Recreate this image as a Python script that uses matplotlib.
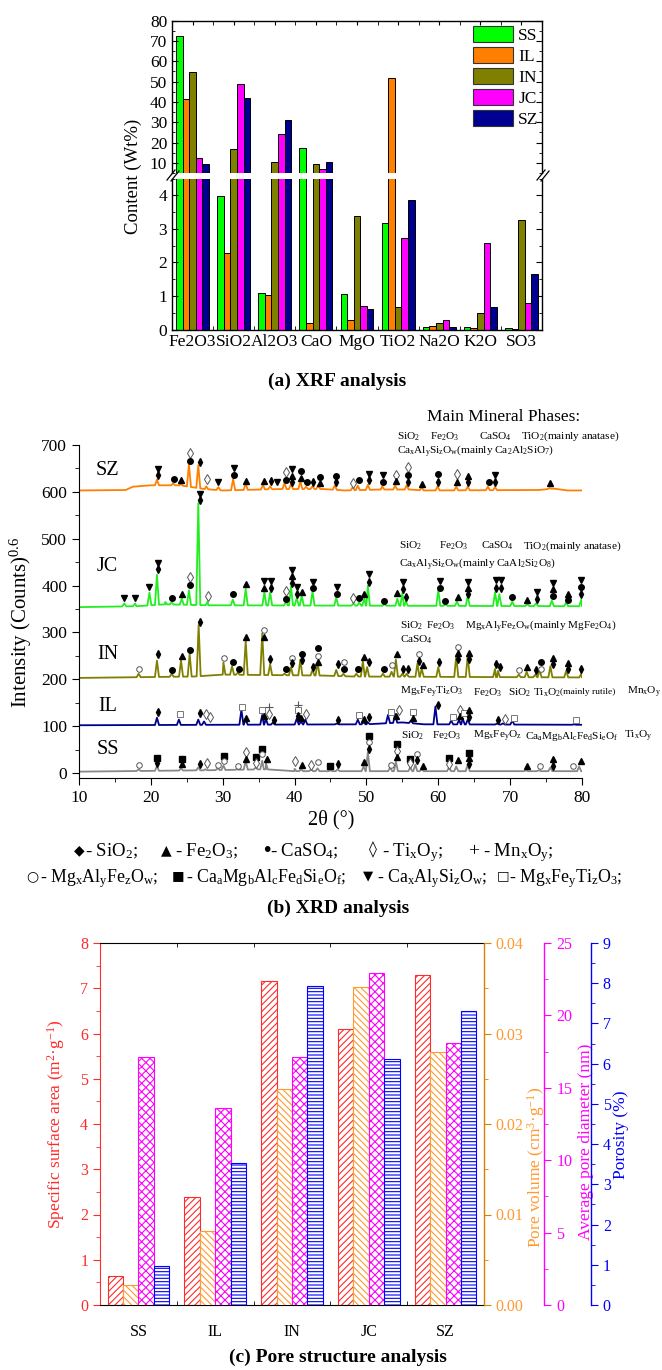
import numpy as np
import matplotlib.pyplot as plt
from matplotlib.patches import Patch
from matplotlib.lines import Line2D
from matplotlib.ticker import MultipleLocator, FormatStrFormatter

plt.rcParams['font.family'] = ['Liberation Serif', 'DejaVu Serif']
plt.rcParams['mathtext.fontset'] = 'stix'
plt.rcParams['mathtext.default'] = 'regular'
plt.rcParams['hatch.linewidth'] = 0.8

# ---------------- (a) XRF data ----------------
oxides = ['Fe2O3', 'SiO2', 'Al2O3', 'CaO', 'MgO', 'TiO2', 'Na2O', 'K2O', 'SO3']
samples = ['SS', 'IL', 'IN', 'JC', 'SZ']
xrf_colors = ['#00FF00', '#FF8000', '#808000', '#FF00FF', '#000090']
xrf_SS = [72.3, 3.98, 1.08, 17.4, 1.07, 3.16, 0.06, 0.06, 0.05]
xrf_IL = [41.6, 2.27, 1.02, 0.20, 0.27, 51.6, 0.11, 0.03, 0.02]
xrf_IN = [54.6, 16.6, 10.6, 9.6, 3.38, 0.68, 0.20, 0.48, 3.25]
xrf_JC = [12.6, 48.8, 24.0, 7.0, 0.69, 2.72, 0.27, 2.57, 0.79]
xrf_SZ = [9.2, 41.8, 31.3, 10.4, 0.61, 3.86, 0.07, 0.68, 1.64]
xrf_vals = [xrf_SS, xrf_IL, xrf_IN, xrf_JC, xrf_SZ]

# ---------------- (b) XRD data: baselines, peaks (2theta, top), phase marks ----------------
sz_base = [(10, 603), (16.5, 604), (17.5, 611), (20, 614), (24, 614), (27.5, 606), (30, 603),
           (38, 606), (44, 606), (47, 603), (52, 605), (56, 605), (58, 603), (74, 604),
           (76, 607), (78, 603), (80, 603)]
sz_peaks = [(20.85, 626), (23.1, 618), (24.2, 617), (25.3, 659), (26.6, 657), (27.7, 612),
            (29.4, 610), (31.45, 628), (33.2, 618), (35.6, 615), (36.6, 612), (38.6, 619),
            (39.5, 617), (40.8, 622), (41.6, 611), (42.5, 612), (43.3, 614), (45.6, 614),
            (48.1, 610), (48.8, 613), (50.2, 615), (52.2, 612), (54.0, 613), (55.6, 614),
            (57.7, 609), (59.9, 612), (62.5, 611), (64.1, 611), (66.9, 611), (67.9, 610),
            (75.5, 608)]
sz_marks = [(21.0, 649, 'cas'), (21.0, 635, 'qz'), (23.2, 627, 'ca'), (24.2, 625, 'fe'),
            (25.5, 683, 'ti'), (25.5, 666, 'ca'), (26.8, 663, 'qz'), (27.75, 627, 'ti'),
            (29.3, 620, 'cas'), (31.6, 650, 'cas'), (31.6, 635, 'ca'), (33.3, 623, 'fe'),
            (35.8, 623, 'fe'), (36.7, 623, 'qz'), (37.5, 620, 'cas'), (38.8, 643, 'ti'),
            (38.8, 625, 'ca'), (39.7, 648, 'cas'), (39.7, 634, 'fe'), (39.7, 621, 'qz'),
            (40.9, 645, 'ca'), (40.9, 630, 'fe'), (41.7, 620, 'ca'), (42.6, 620, 'qz'),
            (43.5, 631, 'ca'), (43.5, 619, 'fe'), (45.7, 633, 'ca'), (45.7, 620, 'qz'),
            (48.1, 619, 'ti'), (48.9, 625, 'ca'), (50.4, 639, 'cas'), (50.4, 625, 'qz'),
            (52.35, 636, 'cas'), (52.35, 622, 'ca'), (54.1, 637, 'ti'), (54.1, 623, 'fe'),
            (55.75, 653, 'ti'), (55.75, 637, 'ca'), (55.75, 622, 'qz'), (57.8, 616, 'fe'),
            (60.0, 638, 'ca'), (60.0, 622, 'qz'), (62.6, 638, 'ti'), (62.6, 621, 'fe'),
            (64.2, 633, 'fe'), (64.2, 620, 'qz'), (67.0, 621, 'ca'), (67.9, 635, 'cas'),
            (67.9, 620, 'qz'), (75.5, 618, 'fe')]

jc_base = [(10, 354), (18, 356), (22, 360), (28, 358), (80, 356)]
jc_peaks = [(16.3, 362), (17.8, 362), (19.8, 385), (20.85, 423), (22.0, 365), (22.9, 364),
            (24.3, 372), (25.3, 390), (26.6, 576), (27.9, 366), (31.4, 370), (33.2, 393),
            (35.8, 386), (36.6, 386), (38.8, 365), (39.5, 398), (40.3, 374), (41.0, 378),
            (42.5, 388), (45.8, 374), (48.2, 362), (49.0, 364), (49.7, 372), (50.2, 400),
            (52.5, 360), (54.3, 372), (55.0, 384), (55.5, 366), (60.0, 390), (61.0, 360),
            (62.6, 366), (64.1, 378), (67.9, 386), (68.5, 382), (70.3, 366), (72.4, 360),
            (73.6, 362), (75.8, 368), (77.8, 364), (79.9, 370)]
jc_marks = [(16.3, 373, 'cas'), (17.8, 373, 'cas'), (19.8, 396, 'cas'), (20.95, 449, 'cas'),
            (20.95, 435, 'qz'), (22.9, 373, 'ca'), (24.35, 383, 'fe'), (25.5, 418, 'ti'),
            (25.5, 402, 'ca'), (26.8, 595, 'cas'), (26.8, 582, 'qz'), (27.9, 378, 'ti'),
            (31.5, 381, 'ca'), (33.3, 404, 'fe'), (35.8, 410, 'cas'), (35.8, 395, 'fe'),
            (36.7, 410, 'cas'), (36.7, 395, 'qz'), (38.8, 389, 'ti'), (38.8, 372, 'ca'),
            (39.7, 434, 'cas'), (39.7, 420, 'fe'), (39.7, 406, 'qz'), (40.3, 396, 'cas'),
            (40.3, 381, 'qz'), (41.0, 387, 'fe'), (42.6, 407, 'cas'), (42.6, 394, 'ca'),
            (45.85, 397, 'cas'), (45.85, 381, 'ca'), (48.2, 373, 'ti'), (49.0, 374, 'ca'),
            (49.7, 383, 'fe'), (50.4, 424, 'cas'), (50.4, 407, 'qz'), (52.5, 368, 'ca'),
            (54.3, 384, 'fe'), (55.1, 407, 'cas'), (55.1, 392, 'qz'), (55.5, 376, 'qz'),
            (60.2, 409, 'cas'), (60.2, 395, 'ca'), (61.0, 368, 'ca'), (62.7, 376, 'fe'),
            (64.2, 408, 'cas'), (64.2, 394, 'fe'), (64.2, 382, 'qz'), (68.0, 411, 'cas'),
            (68.0, 395, 'qz'), (68.7, 411, 'cas'), (68.7, 395, 'qz'), (70.3, 376, 'ca'),
            (72.4, 370, 'fe'), (73.7, 387, 'cas'), (73.7, 372, 'qz'), (75.9, 406, 'cas'),
            (75.9, 393, 'fe'), (75.9, 378, 'ca'), (78.0, 383, 'fe'), (78.0, 369, 'ca'),
            (79.9, 411, 'cas'), (79.9, 396, 'ca'), (79.9, 381, 'qz')]

in_base = [(10, 203), (26, 206), (30, 210), (44, 208), (48, 206), (80, 204)]
in_peaks = [(18.3, 212), (20.85, 240), (22.9, 212), (24.2, 240), (25.4, 254), (26.65, 316),
            (30.1, 236), (31.3, 228), (32.1, 214), (33.2, 282), (35.5, 298), (36.6, 232),
            (38.6, 212), (39.5, 226), (40.8, 242), (42.5, 220), (43.2, 236), (45.8, 220),
            (46.8, 212), (48.6, 212), (49.5, 238), (50.1, 226), (52.3, 212), (53.5, 216),
            (54.1, 242), (55.0, 212), (55.6, 212), (57.1, 234), (57.7, 222), (60.0, 226),
            (62.5, 250), (64.1, 250), (67.9, 222), (68.3, 218), (71.2, 210), (72.3, 216),
            (73.5, 210), (74.1, 220), (75.6, 228), (77.8, 218), (79.9, 212)]
in_marks = [(18.4, 223, 'mg'), (21.0, 253, 'qz'), (22.9, 219, 'ca'), (24.35, 250, 'fe'),
            (25.5, 262, 'ca'), (26.8, 323, 'qz'), (30.2, 246, 'mg'), (31.5, 238, 'ca'),
            (32.3, 223, 'ca'), (33.3, 290, 'fe'), (35.8, 306, 'mg'), (35.8, 290, 'fe'),
            (36.65, 243, 'qz'), (38.8, 223, 'ca'), (39.6, 246, 'mg'), (39.6, 234, 'qz'),
            (41.05, 255, 'ca'), (41.05, 242, 'qz'), (42.6, 227, 'qz'), (43.2, 266, 'ca'),
            (43.2, 250, 'mg'), (43.2, 237, 'fe'), (46.0, 232, 'qz'), (46.9, 238, 'mg'),
            (46.9, 221, 'ca'), (48.85, 223, 'ca'), (49.7, 247, 'fe'), (50.4, 237, 'qz'),
            (52.5, 223, 'ca'), (53.6, 230, 'mg'), (54.2, 255, 'fe'), (55.1, 223, 'qz'),
            (55.75, 221, 'qz'), (57.3, 253, 'mg'), (57.3, 240, 'qz'), (57.9, 230, 'fe'),
            (60.1, 236, 'qz'), (62.7, 270, 'mg'), (62.7, 256, 'fe'), (62.7, 243, 'qz'),
            (64.3, 256, 'fe'), (64.3, 243, 'qz'), (68.0, 232, 'qz'), (68.6, 227, 'qz'),
            (71.3, 219, 'mg'), (72.4, 227, 'fe'), (73.6, 219, 'qz'), (74.3, 236, 'ca'),
            (74.3, 223, 'mg'), (75.9, 245, 'fe'), (75.9, 232, 'qz'), (78.0, 234, 'fe'),
            (78.0, 221, 'qz'), (79.9, 223, 'qz')]

il_base = [(10, 102), (50, 104), (55, 108), (58, 104), (80, 103)]
il_peaks = [(20.85, 118), (23.9, 114), (26.6, 114), (27.4, 110), (32.6, 135), (33.2, 114),
            (35.5, 124), (36.0, 116), (37.0, 108), (40.3, 116), (40.9, 110), (41.5, 114),
            (45.9, 106), (48.8, 114), (49.6, 109), (50.2, 108), (53.0, 124), (54.0, 126),
            (56.2, 112), (59.6, 142), (61.8, 112), (62.9, 114), (63.4, 116), (64.1, 114),
            (68.2, 106), (69.0, 106), (70.3, 112), (78.9, 104)]
il_marks = [(21.0, 130, 'qz'), (24.0, 126, 'mft'), (26.8, 128, 'qz'), (27.7, 127, 'ti'),
            (28.3, 119, 'ti'), (32.7, 141, 'mft'), (33.3, 117, 'fe'), (35.5, 134, 'mft'),
            (35.8, 121, 'fe'), (36.5, 141, 'mn'), (36.5, 127, 'ti'), (37.1, 114, 'qz'),
            (40.5, 146, 'mn'), (40.5, 134, 'mft'), (40.5, 122, 'qz'), (40.9, 117, 'fe'),
            (41.6, 126, 'ti'), (46.1, 113, 'qz'), (49.0, 124, 'mft'), (49.7, 116, 'fe'),
            (50.4, 119, 'qz'), (53.35, 130, 'mft'), (54.1, 122, 'fe'), (54.6, 134, 'ti'),
            (56.45, 130, 'mft'), (56.45, 117, 'fe'), (59.9, 146, 'qz'), (62.0, 119, 'mft'),
            (63.0, 134, 'ti'), (63.0, 121, 'fe'), (63.6, 128, 'mft'), (64.3, 134, 'fe'),
            (64.3, 119, 'qz'), (68.3, 114, 'qz'), (69.3, 116, 'ti'), (70.5, 117, 'mft'),
            (79.1, 113, 'mft')]

ss_base = [(10, 3), (28, 6), (36, 8), (40, 4), (80, 4)]
ss_peaks = [(18.3, 8), (20.85, 15), (24.2, 10), (26.6, 12), (27.6, 8), (29.3, 10), (30.1, 16),
            (32.0, 8), (33.2, 26), (34.6, 12), (35.5, 26), (36.0, 22), (40.0, 9), (40.9, 8),
            (42.3, 8), (43.2, 10), (45.0, 6), (46.0, 8), (49.6, 14), (50.2, 45), (53.3, 12),
            (54.1, 24), (56.1, 12), (56.8, 18), (57.7, 8), (61.5, 12), (62.5, 14), (64.1, 18),
            (72.2, 6), (74.0, 6), (75.6, 12), (79.6, 14)]
ss_marks = [(18.4, 17, 'mg'), (20.85, 33, 'cm'), (20.85, 21, 'qz'), (24.35, 31, 'cm'),
            (24.35, 19, 'fe'), (26.8, 19, 'qz'), (27.75, 21, 'ti'), (29.3, 17, 'mg'),
            (30.2, 37, 'cm'), (30.2, 26, 'mg'), (32.1, 16, 'mg'), (33.3, 45, 'ti'),
            (33.3, 30, 'fe'), (34.7, 35, 'cm'), (34.7, 21, 'ti'), (35.5, 52, 'cm'),
            (35.5, 40, 'mg'), (36.1, 30, 'fe'), (40.0, 26, 'ti'), (41.0, 17, 'fe'),
            (42.3, 17, 'ti'), (43.2, 23, 'mg'), (45.0, 15, 'cm'), (46.0, 19, 'qz'),
            (49.7, 23, 'fe'), (50.4, 79, 'cm'), (50.4, 66, 'mg'), (50.4, 52, 'qz'),
            (53.35, 17, 'mg'), (54.3, 63, 'cm'), (54.3, 48, 'ti'), (54.3, 34, 'fe'),
            (56.1, 31, 'cm'), (56.1, 21, 'ti'), (57.0, 40, 'mg'), (57.0, 27, 'qz'),
            (57.9, 15, 'fe'), (61.55, 33, 'cm'), (61.55, 19, 'ti'), (62.7, 27, 'fe'),
            (64.3, 43, 'cm'), (64.3, 32, 'fe'), (64.3, 19, 'qz'), (72.4, 16, 'fe'),
            (74.1, 15, 'mg'), (75.9, 29, 'fe'), (75.9, 16, 'qz'), (78.8, 14, 'mg'),
            (79.9, 25, 'fe')]

xrd_names = ['SZ', 'JC', 'IN', 'IL', 'SS']
xrd_colors = ['#FF8000', '#22EE22', '#808000', '#000090', '#888888']
xrd_label_y = [646, 440, 253, 143, 50]

# phase notes next to each pattern: (intensity level, [(x pixel, text, size), ...])
phase_notes = [
    (718, [(397, 'SiO$_2$', 8.1), (430, 'Fe$_2$O$_3$', 8.1), (479, 'CaSO$_4$', 8.1),
           (521, 'TiO$_2$(mainly anatase)', 8.1)]),
    (687, [(397, 'Ca$_x$Al$_y$Si$_z$O$_w$(mainly Ca$_2$Al$_2$SiO$_7$)', 8.1)]),
    (485, [(399, 'SiO$_2$', 8.1), (439, 'Fe$_2$O$_3$', 8.1), (481, 'CaSO$_4$', 8.1),
           (523, 'TiO$_2$(mainly anatase)', 8.1)]),
    (447, [(399, 'Ca$_x$Al$_y$Si$_z$O$_w$(mainly CaAl$_2$Si$_2$O$_8$)', 8.1)]),
    (314, [(400, 'SiO$_2$', 8.1), (426, 'Fe$_2$O$_3$', 8.1),
           (465, 'Mg$_x$Al$_y$Fe$_z$O$_w$(mainly MgFe$_2$O$_4$)', 8.1)]),
    (285, [(400, 'CaSO$_4$', 8.1)]),
    (172, [(400, 'Mg$_x$Fe$_y$Ti$_z$O$_3$', 8.1), (473, 'Fe$_2$O$_3$', 8.1),
           (508, 'SiO$_2$', 8.1), (533, 'Ti$_x$O$_2$', 8.1), (560, '(mainly rutile)', 6.8),
           (627, 'Mn$_x$O$_y$', 8.1)]),
    (79, [(401, 'SiO$_2$', 8.1), (432, 'Fe$_2$O$_3$', 8.1), (473, 'Mg$_x$Fe$_y$O$_z$', 8.1),
          (525, 'Ca$_a$Mg$_b$Al$_c$Fe$_d$Si$_e$O$_f$', 8.1), (624, 'Ti$_x$O$_y$', 8.1)]),
]

# key under the XRD plot: (x pixel, text, size, family)
key_row1 = [(74, '◆', 10, 'DejaVu Sans'), (85, '- SiO$_2$;', 13.5, None),
            (161, '▲', 10, 'DejaVu Sans'), (175, '- Fe$_2$O$_3$;', 13.5, None),
            (261, '•', 14, 'DejaVu Sans'), (270, '- CaSO$_4$;', 13.5, None),
            (369, '◊', 11.5, 'DejaVu Sans'), (382, '- Ti$_x$O$_y$;', 13.5, None),
            (468, '+', 14, None), (483, '- Mn$_x$O$_y$;', 13.5, None)]
key_row2 = [(26, '○', 10, 'DejaVu Sans'), (40, '- Mg$_x$Al$_y$Fe$_z$O$_w$;', 12.8, None),
            (172, '■', 9.5, 'DejaVu Sans'), (186, '- Ca$_a$Mg$_b$Al$_c$Fe$_d$Si$_e$O$_f$;', 12.8, None),
            (363, '▼', 9.5, 'DejaVu Sans'), (377, '- Ca$_x$Al$_y$Si$_z$O$_w$;', 12.8, None),
            (497, '□', 9.5, 'DejaVu Sans'), (509, '- Mg$_x$Fe$_y$Ti$_z$O$_3$;', 12.8, None)]

# ---------------- (c) pore structure data ----------------
ssa = [0.63, 2.38, 7.16, 6.11, 7.30]                  # m2/g
pore_vol = [0.0022, 0.0082, 0.0239, 0.0351, 0.0280]   # cm3/g
pore_dia = [17.1, 13.6, 17.1, 22.9, 18.1]             # nm
porosity = [0.96, 3.54, 7.92, 6.12, 7.31]             # %

W, H = 662, 1370
fig = plt.figure(figsize=(W / 100, H / 100), dpi=100)


def box(l, t, r, b):
    return fig.add_axes([l / W, 1 - b / H, (r - l) / W, (b - t) / H])


def fig_line(x0, y0, x1, y1):
    fig.add_artist(Line2D([x0 / W, x1 / W], [1 - y0 / H, 1 - y1 / H],
                          transform=fig.transFigure, color='k', lw=0.9))


# ================= (a) XRF =================
ax_top = box(172, 20.7, 542, 173)
ax_bot = box(172, 178.5, 542, 329.5)
xpos = np.arange(len(oxides))
for ax in (ax_top, ax_bot):
    for i, (vals, c) in enumerate(zip(xrf_vals, xrf_colors)):
        ax.bar(xpos + (i - 2) * 0.16, vals, 0.16, color=c, edgecolor='black', lw=0.7)
    ax.set_xlim(-0.5, 8.5)
    ax.set_xticks(xpos + 0.5, minor=True)
    ax.tick_params(axis='y', which='both', direction='in', right=True, labelsize=12.5)
    ax.tick_params(axis='y', which='major', length=4)
    ax.tick_params(axis='y', which='minor', length=2)
    for s in ax.spines.values():
        s.set_linewidth(1.0)
ax_top.set_ylim(5, 80)
ax_top.set_yticks(range(10, 81, 10))
ax_top.yaxis.set_minor_locator(MultipleLocator(5))
ax_top.set_xticks(xpos)
ax_top.tick_params(axis='x', which='both', bottom=False, top=True, labelbottom=False,
                   direction='in', length=3)
ax_top.spines['bottom'].set_visible(False)
ax_bot.set_ylim(0, 4.5)
ax_bot.set_yticks(range(0, 5))
ax_bot.yaxis.set_minor_locator(MultipleLocator(0.5))
ax_bot.set_xticks(xpos, oxides, fontsize=12.5)
ax_bot.tick_params(axis='x', which='major', length=0, pad=3)
ax_bot.tick_params(axis='x', which='minor', direction='in', length=3)
ax_bot.spines['top'].set_visible(False)

for xb in (172, 542):
    fig_line(xb - 5, 180, xb + 3, 170)
    fig_line(xb - 1, 181, xb + 7, 171)

handles = [Patch(facecolor=c, edgecolor='#333333', lw=0.8) for c in xrf_colors]
ax_top.legend(handles, samples, loc='upper right', bbox_to_anchor=(1.019, 1.035),
              frameon=False, fontsize=12.5, handlelength=2.3, handleheight=1.05,
              labelspacing=0.18, handletextpad=0.3, borderaxespad=0.2)
fig.text(133 / W, 1 - 176 / H, 'Content (Wt%)', rotation=90, ha='center', va='center',
         fontsize=13.5)
fig.text(337 / W, 1 - 381 / H, '(a) XRF analysis', ha='center', va='center',
         fontsize=14, weight='bold')

# ================= (b) XRD =================
ax_x = box(79, 445, 582, 778.2)
ax_x.set_xlim(10, 80)
ax_x.set_ylim(-11, 700)

mark_style = {
    'qz': dict(marker='d', ms=4.2, color='black'),
    'fe': dict(marker='^', ms=3.7, color='black'),
    'ca': dict(marker='o', ms=4.0, color='black'),
    'ti': dict(marker='d', ms=5.2, mfc='white', mec='#555555', mew=0.7),
    'mn': dict(marker='+', ms=5.2, color='#555555', mew=0.8),
    'mg': dict(marker='o', ms=4.0, mfc='white', mec='#555555', mew=0.7),
    'cm': dict(marker='s', ms=3.7, color='black'),
    'cas': dict(marker='v', ms=3.7, color='black'),
    'mft': dict(marker='s', ms=4.0, mfc='white', mec='#777777', mew=0.7),
}


def trace_xy(base, peaks, hw=0.28):
    bx = [b[0] for b in base]
    by = [b[1] for b in base]
    pts = list(base)
    for p, top in peaks:
        pts.append((p - hw, np.interp(p - hw, bx, by)))
        pts.append((p, top))
        pts.append((p + hw, np.interp(p + hw, bx, by)))
    pts.sort()
    return np.array(pts).T


traces = [(sz_base, sz_peaks, sz_marks), (jc_base, jc_peaks, jc_marks),
          (in_base, in_peaks, in_marks), (il_base, il_peaks, il_marks),
          (ss_base, ss_peaks, ss_marks)]
for (base, peaks, marks), name, col, ly in zip(traces, xrd_names, xrd_colors, xrd_label_y):
    tx, ty = trace_xy(base, peaks)
    ax_x.plot(tx, ty, color=col, lw=1.3)
    for mx, my, key in marks:
        ax_x.plot([mx], [my], ls='none', clip_on=False, **mark_style[key])
    ax_x.text(14.0, ly, name, ha='center', va='center', fontsize=14.5)

ax_x.spines['top'].set_visible(False)
ax_x.spines['right'].set_visible(False)
ax_x.set_xticks(range(10, 81, 10))
ax_x.xaxis.set_minor_locator(MultipleLocator(5))
ax_x.set_yticks(range(0, 701, 100))
ax_x.yaxis.set_minor_locator(MultipleLocator(50))
ax_x.tick_params(which='major', direction='out', length=5, labelsize=12.5)
ax_x.tick_params(which='minor', direction='out', length=3)

ax_x.text(69.1, 760, 'Main Mineral Phases:', ha='center', va='center', fontsize=12.5,
          clip_on=False)
for level, parts in phase_notes:
    for px, s, fs in parts:
        ax_x.text(10 + (px - 79) * 70 / 503, level, s, ha='left', va='center', fontsize=fs,
                  clip_on=False)

fig.text(21 / W, 1 - 622 / H, 'Intensity (Counts)$^{0.6}$', rotation=90, ha='center',
         va='center', fontsize=15)
fig.text(331 / W, 1 - 820 / H, '2θ (°)', ha='center', va='center', fontsize=14.5)
for row, yb in ((key_row1, 856), (key_row2, 882)):
    for px, s, fs, fam in row:
        if fam is None:
            fig.text(px / W, 1 - yb / H, s, fontsize=fs, ha='left', va='baseline')
        else:
            fig.text(px / W, 1 - (yb - 6) / H, s, fontsize=fs, ha='left', va='center',
                     family=fam)
fig.text(338 / W, 1 - 908 / H, '(b) XRD analysis', ha='center', va='center',
         fontsize=14, weight='bold')

# ================= (c) pore structure =================
ax_p = box(100, 943, 484, 1305)
ax_v = ax_p.twinx()
ax_d = ax_p.twinx()
ax_r = ax_p.twinx()
xp = np.arange(len(samples))
red, orange, magenta, blue = '#FF2A2A', '#FF9A30', '#FF00FF', '#0000FF'
ax_p.bar(xp - 0.3, ssa, 0.2, facecolor='white', edgecolor=red, hatch='/////', lw=0.8)
ax_v.bar(xp - 0.1, pore_vol, 0.2, facecolor='white', edgecolor=orange, hatch='\\\\\\\\\\',
         lw=0.8)
ax_d.bar(xp + 0.1, pore_dia, 0.2, facecolor='white', edgecolor=magenta, hatch='xxxx', lw=0.8)
ax_r.bar(xp + 0.3, porosity, 0.2, facecolor='white', edgecolor=blue, hatch='-----', lw=0.8)

ax_p.set_xlim(-0.5, 4.5)
ax_p.set_ylim(0, 8)
ax_v.set_ylim(0, 0.04)
ax_d.set_ylim(0, 25)
ax_r.set_ylim(0, 9)

ax_p.set_xticks(xp, samples, fontsize=11.5)
ax_p.set_xticks(xp + 0.5, minor=True)
ax_p.tick_params(axis='x', which='major', length=0, pad=14)
ax_p.tick_params(axis='x', which='minor', direction='in', length=3, top=True)
ax_p.set_yticks(range(0, 9))
ax_p.yaxis.set_minor_locator(MultipleLocator(0.5))
ax_p.tick_params(axis='y', which='both', colors=red, labelsize=11.5)
ax_p.tick_params(axis='y', which='major', length=5)
ax_p.tick_params(axis='y', which='minor', length=3)
ax_p.spines['left'].set_color(red)
ax_p.spines['right'].set_visible(False)

for ax, col, step, minor, off, fmt in [(ax_v, '#D98000', 0.01, 0.005, 0, '%.2f'),
                                       (ax_d, magenta, 5, 2.5, 43.5, '%d'),
                                       (ax_r, blue, 1, 0.5, 77.0, '%d')]:
    for side in ('left', 'top', 'bottom'):
        ax.spines[side].set_visible(False)
    ax.spines['right'].set_color(col)
    ax.spines['right'].set_linewidth(1.0)
    ax.spines['right'].set_position(('outward', off))
    ax.yaxis.set_major_locator(MultipleLocator(step))
    ax.yaxis.set_minor_locator(MultipleLocator(minor))
    ax.yaxis.set_major_formatter(FormatStrFormatter(fmt))
    ax.tick_params(axis='y', which='both', colors=col, labelsize=11.5)
    ax.tick_params(axis='y', which='major', length=5)
    ax.tick_params(axis='y', which='minor', length=3)
ax_v.tick_params(axis='y', labelcolor=orange)

ax_p.set_ylabel('Specific surface area (m$^2$·g$^{-1}$)', color=red, fontsize=12.5)
ax_p.yaxis.set_label_coords(-0.086, 0.5)
ax_v.set_ylabel('Pore volume (cm$^3$·g$^{-1}$)', color=orange, fontsize=12.5)
ax_v.yaxis.set_label_coords(1.107, 0.38)
ax_d.set_ylabel('Average pore diameter (nm)', color=magenta, fontsize=12.5)
ax_d.yaxis.set_label_coords(1.245, 0.45)
ax_r.set_ylabel('Porosity (%)', color=blue, fontsize=12.5)
ax_r.yaxis.set_label_coords(1.335, 0.47)

fig.text(338 / W, 1 - 1357 / H, '(c) Pore structure analysis', ha='center', va='center',
         fontsize=14, weight='bold')

fig.savefig('out.png', dpi=100)
